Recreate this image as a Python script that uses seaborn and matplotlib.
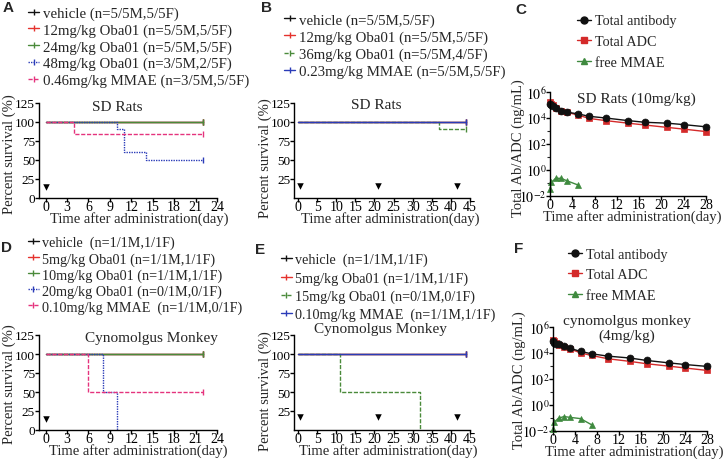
import matplotlib
matplotlib.use("Agg")
import matplotlib.pyplot as plt
from matplotlib.lines import Line2D
from matplotlib.ticker import FixedLocator, NullFormatter
import seaborn as sns
import pandas as pd

sns.set_style("ticks")
plt.rcParams['font.family'] = ['Liberation Serif', 'DejaVu Serif']
plt.rcParams['mathtext.fontset'] = 'stix'

# ---------------- data ----------------
# Panel A: SD rats, single dose survival
A_labels = ["vehicle (n=5/5M,5/5F)", "12mg/kg Oba01 (n=5/5M,5/5F)",
            "24mg/kg Oba01 (n=5/5M,5/5F)", "48mg/kg Oba01 (n=3/5M,2/5F)",
            "0.46mg/kg MMAE (n=3/5M,5/5F)"]
A_vehicle_t = [0, 22]; A_vehicle_s = [100, 100]
A_12_t = [0, 22]; A_12_s = [100, 100]
A_24_t = [0, 22]; A_24_s = [100, 100]
A_48_t = [0, 10, 11, 14, 22]; A_48_s = [100, 90, 60, 50, 50]
A_mmae_t = [0, 4, 22]; A_mmae_s = [100, 83, 83]
A_dose_days = [0]

# Panel B: SD rats, repeated dose survival
B_labels = ["vehicle (n=5/5M,5/5F)", "12mg/kg Oba01 (n=5/5M,5/5F)",
            "36mg/kg Oba01 (n=5/5M,4/5F)", "0.23mg/kg MMAE (n=5/5M,5/5F)"]
B_vehicle_t = [0, 44]; B_vehicle_s = [100, 100]
B_12_t = [0, 44]; B_12_s = [100, 100]
B_36_t = [0, 37, 44]; B_36_s = [100, 90, 90]
B_mmae_t = [0, 44]; B_mmae_s = [100, 100]
B_dose_days = [0.5, 21, 41.5]

# Panel D: cynomolgus monkey, single dose survival
D_labels = ["vehicle  (n=1/1M,1/1F)", "5mg/kg Oba01 (n=1/1M,1/1F)",
            "10mg/kg Oba01 (n=1/1M,1/1F)", "20mg/kg Oba01 (n=0/1M,0/1F)",
            "0.10mg/kg MMAE  (n=1/1M,0/1F)"]
D_vehicle_t = [0, 22]; D_vehicle_s = [100, 100]
D_5_t = [0, 22]; D_5_s = [100, 100]
D_10_t = [0, 22]; D_10_s = [100, 100]
D_20_t = [0, 8, 10]; D_20_s = [100, 50, 0]
D_mmae_t = [0, 6, 22]; D_mmae_s = [100, 50, 50]
D_dose_days = [0]

# Panel E: cynomolgus monkey, repeated dose survival
E_labels = ["vehicle  (n=1/1M,1/1F)", "5mg/kg Oba01 (n=1/1M,1/1F)",
            "15mg/kg Oba01 (n=0/1M,0/1F)", "0.10mg/kg MMAE  (n=1/1M,1/1F)"]
E_vehicle_t = [0, 44]; E_vehicle_s = [100, 100]
E_5_t = [0, 44]; E_5_s = [100, 100]
E_15_t = [0, 11, 32]; E_15_s = [100, 50, 0]
E_mmae_t = [0, 44]; E_mmae_s = [100, 100]
E_dose_days = [0.5, 21, 41.5]

# Panel C: SD rats PK (10 mg/kg)
pk_labels = ["Total antibody", "Total ADC", "free MMAE"]
C_t = [0.04, 0.25, 0.5, 1, 2, 3, 5, 7, 10, 14, 17, 21, 24, 28]
C_total_ab = [1.2e5, 1.0e5, 8.0e4, 5.6e4, 3.6e4, 2.8e4, 2.1e4, 1.35e4, 1.0e4, 6.3e3, 4.7e3, 4.0e3, 3.1e3, 2.1e3]
C_total_adc = [1.6e5, 1.3e5, 1.0e5, 6.0e4, 3.6e4, 2.75e4, 1.7e4, 9.3e3, 6.3e3, 4.0e3, 2.9e3, 1.9e3, 1.4e3, 9.0e2]
C_mmae_t = [0.04, 0.25, 1, 2, 3, 5]
C_mmae = [0.035, 0.11, 0.23, 0.23, 0.15, 0.071]

# Panel F: cynomolgus monkey PK (4 mg/kg)
F_t = [0.04, 0.25, 0.5, 1, 2, 3, 5, 7, 10, 14, 17, 21, 24, 28]
F_total_ab = [9.0e4, 6.0e4, 5.0e4, 4.5e4, 3.2e4, 2.3e4, 1.3e4, 8.5e3, 5.6e3, 4.0e3, 2.6e3, 1.7e3, 1.26e3, 9.0e2]
F_total_adc = [1.0e5, 8.0e4, 6.0e4, 4.3e4, 2.8e4, 2.1e4, 1.0e4, 6.3e3, 3.5e3, 2.2e3, 1.45e3, 9.5e2, 6.8e2, 4.4e2]
F_mmae_t = [0.04, 0.25, 1, 2, 3, 5, 7]
F_mmae = [0.014, 0.045, 0.089, 0.12, 0.105, 0.083, 0.028]

# ---------------- style ----------------
BLACK = "#111111"; RED = "#e5322d"; GREEN = "#4a8a3a"; BLUE = "#2b3cb8"; PINK = "#e5337d"
PKRED = "#d42a2a"; PKGREEN = "#3f8a3f"
SOLID = "-"; DASH = (0, (3, 1.2)); DOT = (0, (1, 0.8))

W, H = 724, 464
fig = plt.figure(figsize=(W / 100, H / 100), dpi=100)

FS_XTICK = 10
FS_YTICK = 9.5
FS_LAB = 10.5


def add_ax(x0, y0, x1, y1):
    return fig.add_axes([x0 / W, 1 - y1 / H, (x1 - x0) / W, (y1 - y0) / H])


def style_axes(ax, ytick_fs=FS_YTICK):
    sns.despine(ax=ax)
    for s in ("left", "bottom"):
        ax.spines[s].set_linewidth(1.0)
        ax.spines[s].set_color("black")
    ax.tick_params(axis="x", direction="out", length=3, width=1, labelsize=FS_XTICK, pad=-1.5, colors="black")
    ax.tick_params(axis="y", direction="out", length=3, width=1, labelsize=ytick_fs, pad=-0.5, colors="black")


def survival_panel(ax, series, xlim, xticks, yticks, dose_days, dose_y, title, tx, ty):
    handles = []
    for t, s, color, ls in series:
        df = pd.DataFrame({"day": t, "surv": s})
        sns.lineplot(data=df, x="day", y="surv", ax=ax, color=color, linestyle=ls,
                     drawstyle="steps-post", lw=1.0, errorbar=None, estimator=None,
                     marker="|", markevery=[len(t) - 1] if s[-1] > 0 else [],
                     markersize=4, mec=color, mew=1.0, clip_on=False)
        handles.append(Line2D([0], [0], color=color, linestyle=ls, lw=1.0, marker="|",
                              markersize=4, mec=color, mew=1.0))
    ddf = pd.DataFrame({"day": dose_days, "y": [dose_y] * len(dose_days)})
    sns.scatterplot(data=ddf, x="day", y="y", ax=ax, marker="v", color="black",
                    s=22, linewidth=0, legend=False)
    ax.set_xlim(*xlim)
    ax.set_ylim(0, 125)
    ax.set_xticks(xticks)
    ax.set_yticks(yticks)
    ax.text(tx, ty, title, transform=ax.transAxes, ha="center", va="center", fontsize=FS_LAB + 0.5)
    style_axes(ax)
    return handles


def pk_panel(ax, t, ab, adc, mt, mm, title, tx, ty):
    ax.set_yscale("log")
    d1 = pd.DataFrame({"day": t, "conc": ab})
    d2 = pd.DataFrame({"day": t, "conc": adc})
    d3 = pd.DataFrame({"day": mt, "conc": mm})
    sns.lineplot(data=d2, x="day", y="conc", ax=ax, color=PKRED, marker="s", markersize=4.5,
                 mec=PKRED, mew=0.5, lw=1.0, errorbar=None, clip_on=False)
    sns.lineplot(data=d1, x="day", y="conc", ax=ax, color=BLACK, marker="o", markersize=5,
                 mec=BLACK, mew=0.5, lw=1.0, errorbar=None, clip_on=False)
    sns.lineplot(data=d3, x="day", y="conc", ax=ax, color=PKGREEN, marker="^", markersize=5,
                 mec=PKGREEN, mew=0.5, lw=1.0, errorbar=None, clip_on=False)
    handles = [Line2D([0], [0], color=BLACK, marker="o", markersize=5, lw=1.0),
               Line2D([0], [0], color=PKRED, marker="s", markersize=4.5, lw=1.0),
               Line2D([0], [0], color=PKGREEN, marker="^", markersize=5, lw=1.0)]
    ax.set_xlim(0, 28)
    ax.set_ylim(1e-2, 1e6)
    ax.yaxis.set_major_locator(FixedLocator([1e-2, 1e0, 1e2, 1e4, 1e6]))
    ax.yaxis.set_minor_locator(FixedLocator([1e-1, 1e1, 1e3, 1e5]))
    ax.yaxis.set_minor_formatter(NullFormatter())
    ax.set_yticklabels([r"$10^{-2}$", r"$10^{0}$", r"$10^{2}$", r"$10^{4}$", r"$10^{6}$"])
    ax.set_xticks(range(0, 29, 4))
    ax.text(tx, ty, title, transform=ax.transAxes, ha="center", va="center",
            fontsize=FS_LAB + 0.5, linespacing=1.15)
    style_axes(ax, ytick_fs=10)
    ax.tick_params(which="minor", direction="out", length=2, width=0.8)
    return handles


def place_legend(ax, handles, labels, x, y, spacing, fs, hl=0.75):
    ax.legend(handles, labels, loc="upper left", bbox_to_anchor=(x / W, 1 - y / H),
              bbox_transform=fig.transFigure, frameon=False, borderpad=0, borderaxespad=0,
              labelspacing=spacing, handlelength=hl, handletextpad=0.25,
              fontsize=fs, numpoints=1)


def axis_labels(ax, xl, xx, yl, yx, yy):
    h_px = ax.get_position().height * H
    ax.set_xlabel(xl, fontsize=FS_LAB)
    ax.xaxis.set_label_coords(xx, -13.5 / h_px)
    ax.set_ylabel(yl, fontsize=FS_LAB)
    ax.yaxis.set_label_coords(yx, yy)


XL = "Time after administration(day)"
YS = "Percent survival (%)"
YP = "Total Ab/ADC (ng/mL)"

# ---------- A ----------
axA = add_ax(38.5, 103.5, 217, 198.5)
hA = survival_panel(axA, [
    (A_vehicle_t, A_vehicle_s, BLACK, SOLID),
    (A_12_t, A_12_s, RED, SOLID),
    (A_24_t, A_24_s, GREEN, SOLID),
    (A_48_t, A_48_s, BLUE, DOT),
    (A_mmae_t, A_mmae_s, PINK, DASH),
], (-1, 24), range(0, 25, 3), range(0, 126, 25), A_dose_days, 14, "SD Rats", 0.44, 0.955)
axis_labels(axA, XL, 0.563, YS, -0.128, 0.47)
place_legend(axA, hA, A_labels, 28, 7.5, 0.215, 10.7)

# ---------- B ----------
axB = add_ax(294.2, 103.5, 470, 198.5)
hB = survival_panel(axB, [
    (B_vehicle_t, B_vehicle_s, BLACK, SOLID),
    (B_12_t, B_12_s, RED, SOLID),
    (B_36_t, B_36_s, GREEN, DASH),
    (B_mmae_t, B_mmae_s, BLUE, SOLID),
], (-1, 45), range(0, 46, 5), range(25, 126, 25), B_dose_days, 15, "SD Rats", 0.469, 0.975)
axis_labels(axB, XL, 0.545, YS, -0.125, 0.43)
place_legend(axB, hB, B_labels, 284, 14, 0.25, 10.7)

# ---------- C ----------
axC = add_ax(550, 93, 706, 197)
hC = pk_panel(axC, C_t, C_total_ab, C_total_adc, C_mmae_t, C_mmae,
              "SD Rats (10mg/kg)", 0.554, 0.94)
axis_labels(axC, XL, 0.529, YP, -0.158, 0.47)
place_legend(axC, hC, pk_labels, 577, 15.5, 0.53, 10.2, hl=1.0)

# ---------- D ----------
axD = add_ax(38.5, 336, 217, 431)
hD = survival_panel(axD, [
    (D_vehicle_t, D_vehicle_s, BLACK, SOLID),
    (D_5_t, D_5_s, RED, SOLID),
    (D_10_t, D_10_s, GREEN, SOLID),
    (D_20_t, D_20_s, BLUE, DOT),
    (D_mmae_t, D_mmae_s, PINK, DASH),
], (-1, 24), range(0, 25, 3), range(0, 126, 25), D_dose_days, 15, "Cynomolgus Monkey", 0.63, 0.975)
axis_labels(axD, XL, 0.557, YS, -0.128, 0.495)
place_legend(axD, hD, D_labels, 28, 237, 0.18, 10.2)

# ---------- E ----------
axE = add_ax(294.2, 336, 470, 431)
hE = survival_panel(axE, [
    (E_vehicle_t, E_vehicle_s, BLACK, SOLID),
    (E_5_t, E_5_s, RED, SOLID),
    (E_15_t, E_15_s, GREEN, DASH),
    (E_mmae_t, E_mmae_s, BLUE, SOLID),
], (-1, 45), range(0, 46, 5), range(25, 126, 25), E_dose_days, 17, "Cynomolgus Monkey", 0.488, 1.07)
axis_labels(axE, XL, 0.534, YS, -0.125, 0.42)
place_legend(axE, hE, E_labels, 281, 254, 0.33, 10.2)

# ---------- F ----------
axF = add_ax(553, 328, 707, 431.5)
hF = pk_panel(axF, F_t, F_total_ab, F_total_adc, F_mmae_t, F_mmae,
              "cynomolgus monkey\n(4mg/kg)", 0.478, 0.99)
axis_labels(axF, XL, 0.526, YP, -0.175, 0.5)
place_legend(axF, hF, pk_labels, 568, 248.5, 0.53, 10.2, hl=1.0)

# panel letters
for letter, x, y in [("A", 8, 8), ("B", 267, 8), ("C", 521, 10),
                     ("D", 7, 248), ("E", 260, 250), ("F", 519, 249)]:
    fig.text(x / W, 1 - y / H, letter, fontsize=11, fontweight="bold",
             family=["Liberation Sans", "DejaVu Sans"], ha="center", va="center")

fig.savefig("out.png", dpi=100)
